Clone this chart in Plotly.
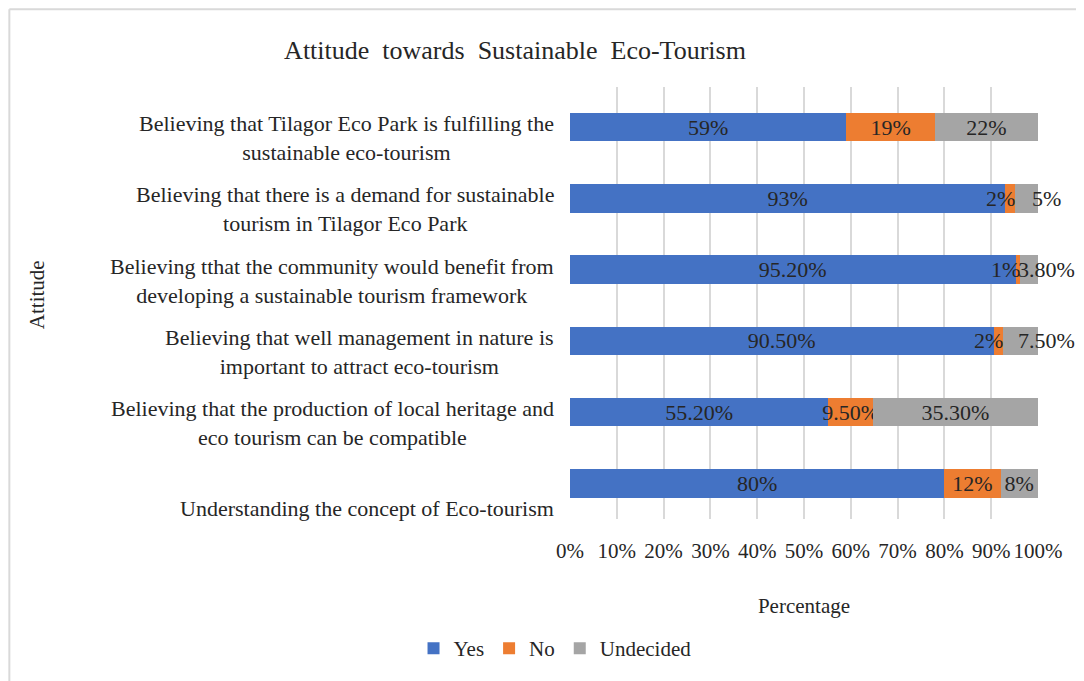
import plotly.graph_objects as go

# =========================
# DATA
# =========================
CATEGORIES = [
    "Believing that Tilagor Eco Park is fulfilling the<br>sustainable eco-tourism",
    "Believing that there is a demand for sustainable<br>tourism in Tilagor Eco Park",
    "Believing tthat the community would benefit from<br>developing a sustainable tourism framework",
    "Believing that well management in nature is<br>important to attract eco-tourism",
    "Believing that the production of local heritage and<br>eco tourism can be compatible",
    "Understanding the concept of Eco-tourism",
]
YES = [59, 93, 95.2, 90.5, 55.2, 80]
NO = [19, 2, 1, 2, 9.5, 12]
UNDECIDED = [22, 5, 3.8, 7.5, 35.3, 8]
X_TICKS = [0, 10, 20, 30, 40, 50, 60, 70, 80, 90, 100]

# rows where the small labels were nudged off their segments
NUDGED = [False, True, True, True, False, False]

BLUE = "#4472C4"
ORANGE = "#ED7D31"
GREY = "#A5A5A5"
FONT = "Liberation Serif"
TXT = "#262626"


def pct(v):
    if float(v).is_integer():
        return "%d%%" % v
    return "%.2f%%" % v


fig = go.Figure()

for name, vals, col in [("Yes", YES, BLUE), ("No", NO, ORANGE), ("Undecided", UNDECIDED, GREY)]:
    texts = [pct(v) for v in vals]
    if name != "Yes":
        texts = ["" if o else t for o, t in zip(NUDGED, texts)]
    fig.add_trace(go.Bar(
        y=CATEGORIES,
        x=vals,
        name=name,
        orientation="h",
        marker=dict(color=col, line=dict(width=0)),
        text=texts,
        textposition="inside",
        insidetextanchor="middle",
        textangle=0,
        textfont=dict(family=FONT, size=22, color=TXT),
        width=0.4,
    ))

# nudged labels: "No" ends at its segment end, "Undecided" pushed past the bar end
for cat, y_, n_, u_, o in zip(CATEGORIES, YES, NO, UNDECIDED, NUDGED):
    if o:
        fig.add_annotation(
            x=y_ + n_, y=cat, xref="x", yref="y",
            text=pct(n_), showarrow=False, xanchor="right", xshift=2,
            font=dict(family=FONT, size=22, color=TXT),
        )
        fig.add_annotation(
            x=y_ + n_ + u_, y=cat, xref="x", yref="y",
            text=pct(u_), showarrow=False, xanchor="center", xshift=8,
            font=dict(family=FONT, size=22, color=TXT),
        )

# category labels (centred lines, right-aligned block)
for cat in CATEGORIES:
    fig.add_annotation(
        x=-0.03, y=cat, xref="paper", yref="y",
        text=cat, showarrow=False, xanchor="right", yanchor="bottom",
        align="center", yshift=-40,
        font=dict(family=FONT, size=22, color=TXT),
    )

fig.add_annotation(
    x=-1.167, y=0.52, xref="paper", yref="paper", text="Attitude",
    textangle=-90, showarrow=False, font=dict(family=FONT, size=21, color=TXT),
)

# light frame round the chart (top and left edges)
fig.add_shape(type="line", xref="paper", yref="paper", x0=-1.198, x1=1.2, y0=1.18, y1=1.18,
              line=dict(color="#D9D9D9", width=2))
fig.add_shape(type="line", xref="paper", yref="paper", x0=-1.198, x1=-1.198, y0=1.18, y1=-0.4,
              line=dict(color="#D9D9D9", width=2))

fig.update_layout(
    width=1076,
    height=673,
    barmode="stack",
    plot_bgcolor="white",
    paper_bgcolor="white",
    margin=dict(l=562, r=46, t=79, b=156),
    font=dict(family=FONT, color=TXT),
    uniformtext=dict(minsize=22, mode="show"),
    title=dict(
        text="Attitude  towards  Sustainable  Eco-Tourism",
        x=507 / 1076, xanchor="center", y=1 - 42 / 673, yanchor="middle",
        font=dict(family=FONT, size=26, color=TXT),
    ),
    xaxis=dict(
        range=[0, 100],
        tickvals=X_TICKS,
        ticktext=["%d%%" % t for t in X_TICKS],
        tickangle=0,
        showgrid=True,
        gridcolor="#D9D9D9",
        gridwidth=1.5,
        zeroline=False,
        showline=False,
        ticks="",
        ticklabelstandoff=17,
        tickfont=dict(family=FONT, size=21, color=TXT),
        title=dict(text="Percentage", standoff=36, font=dict(family=FONT, size=21, color=TXT)),
    ),
    yaxis=dict(
        autorange="reversed",
        showticklabels=False,
        showgrid=False,
        zeroline=False,
        showline=False,
        ticks="",
    ),
    legend=dict(
        orientation="h",
        traceorder="normal",
        x=-0.032, xanchor="center",
        y=-0.3, yanchor="middle",
        font=dict(family=FONT, size=21, color=TXT),
        itemwidth=30,
        tracegroupgap=0,
    ),
)

fig.write_html("out.html")
